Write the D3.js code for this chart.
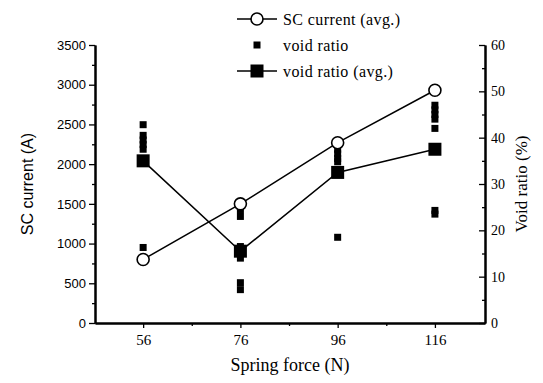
<!DOCTYPE html>
<html>
<head>
<meta charset="utf-8">
<script src="https://cdn.jsdelivr.net/npm/d3@7"></script>
<style>
  body { margin: 0; background: #fff; }
  svg { display: block; }
</style>
</head>
<body>
<div id="chart"></div>
<script>
// spring force categories (N)
var forces = [56, 76, 96, 116];
// SC current, averaged (A)
var scCurrentAvg = [800, 1500, 2270, 2930];
// void ratio, averaged (%)
var voidAvg = [35, 15.5, 32.5, 37.5];
// individual void ratio samples (%), one list per force
var voidSamples = [
  [42.8, 40.5, 39.5, 38.5, 37.5, 16.3],
  [24.5, 23, 16.5, 14, 8.7, 7.2],
  [37.5, 36.5, 35.5, 34.8, 18.5],
  [47, 46, 45, 44, 42, 24.3, 23.5]
];
var leftTicks = [0, 500, 1000, 1500, 2000, 2500, 3000, 3500];
var rightTicks = [0, 10, 20, 30, 40, 50, 60];

var width = 543, height = 383;
var margin = { left: 95, top: 45, right: 58, bottom: 60 };
var innerWidth = width - margin.left - margin.right;
var innerHeight = height - margin.top - margin.bottom;

var serif = "'Liberation Serif', 'Times New Roman', serif";
var sans = "'Liberation Sans', Arial, sans-serif";

var svg = d3.select("#chart").append("svg")
  .attr("width", width)
  .attr("height", height);

var g = svg.append("g")
  .attr("transform", "translate(" + margin.left + "," + margin.top + ")");

var scaleX = d3.scaleLinear().domain([46.1, 126.3]).range([0, innerWidth]);
var scaleY = d3.scaleLinear().domain([0, 3500]).range([innerHeight, 0]);
var scaleV = d3.scaleLinear().domain([0, 60]).range([innerHeight, 0]);

// axes
var xAxis = d3.axisBottom(scaleX).tickValues(forces).tickSize(5).tickSizeOuter(0);
var xMinor = d3.axisBottom(scaleX).tickValues([66, 86, 106]).tickSize(3).tickSizeOuter(0);
var yAxis = d3.axisLeft(scaleY).tickValues(leftTicks).tickSize(6).tickSizeOuter(0).tickFormat(d3.format("d"));
var yMinor = d3.axisLeft(scaleY).tickValues(d3.range(250, 3500, 500)).tickSize(3).tickSizeOuter(0);
var vAxis = d3.axisRight(scaleV).tickValues(rightTicks).tickSize(-6).tickSizeOuter(0).tickPadding(12);
var vMinor = d3.axisRight(scaleV).tickValues(d3.range(5, 60, 10)).tickSize(-3).tickSizeOuter(0);

var xAxisG = g.append("g").attr("transform", "translate(0," + innerHeight + ")").call(xAxis);
var xMinorG = g.append("g").attr("transform", "translate(0," + innerHeight + ")").call(xMinor);
var yAxisG = g.append("g").call(yAxis);
var yMinorG = g.append("g").call(yMinor);
var vAxisG = g.append("g").attr("transform", "translate(" + innerWidth + ",0)").call(vAxis);
var vMinorG = g.append("g").attr("transform", "translate(" + innerWidth + ",0)").call(vMinor);

// minor ticks carry no labels
[xMinorG, yMinorG, vMinorG].forEach(function (m) { m.selectAll("text").remove(); });

g.selectAll(".domain").attr("stroke", "#000").attr("stroke-width", 2);
g.selectAll(".tick line").attr("stroke", "#000").attr("stroke-width", 1.3);

xAxisG.selectAll("text").attr("font-family", serif).attr("font-size", "15px").attr("fill", "#000").attr("dy", "0.95em");
yAxisG.selectAll("text").attr("font-family", sans).attr("font-size", "13px").attr("fill", "#000");
vAxisG.selectAll("text").attr("font-family", serif).attr("font-size", "14px").attr("fill", "#000").attr("x", 6);

// axis titles
svg.append("text")
  .attr("transform", "translate(33," + (margin.top + innerHeight / 2) + ") rotate(-90)")
  .attr("text-anchor", "middle")
  .attr("font-family", sans)
  .attr("font-size", "16px")
  .text("SC current (A)");

svg.append("text")
  .attr("transform", "translate(527," + (margin.top + innerHeight / 2) + ") rotate(-90)")
  .attr("text-anchor", "middle")
  .attr("font-family", serif)
  .attr("font-size", "17px")
  .text("Void ratio (%)");

svg.append("text")
  .attr("x", 290)
  .attr("y", 371)
  .attr("text-anchor", "middle")
  .attr("font-family", serif)
  .attr("font-size", "18px")
  .text("Spring force (N)");

// individual void ratio samples
var samples = [];
voidSamples.forEach(function (list, i) {
  list.forEach(function (v) { samples.push({ x: forces[i], v: v }); });
});
g.selectAll("rect.sample").data(samples).enter().append("rect")
  .attr("class", "sample")
  .attr("x", d => scaleX(d.x) - 3.5)
  .attr("y", d => scaleV(d.v) - 3.5)
  .attr("width", 7)
  .attr("height", 7)
  .attr("fill", "#000");

// averaged lines
g.append("path")
  .datum(forces.map((f, i) => [scaleX(f), scaleV(voidAvg[i])]))
  .attr("d", d3.line())
  .attr("fill", "none").attr("stroke", "#000").attr("stroke-width", 1.5);

g.append("path")
  .datum(forces.map((f, i) => [scaleX(f), scaleY(scCurrentAvg[i])]))
  .attr("d", d3.line())
  .attr("fill", "none").attr("stroke", "#000").attr("stroke-width", 1.5);

g.selectAll("rect.avg").data(forces).enter().append("rect")
  .attr("class", "avg")
  .attr("x", d => scaleX(d) - 6.5)
  .attr("y", (d, i) => scaleV(voidAvg[i]) - 6.5)
  .attr("width", 13).attr("height", 13)
  .attr("fill", "#000");

g.selectAll("circle.avg").data(forces).enter().append("circle")
  .attr("class", "avg")
  .attr("cx", d => scaleX(d))
  .attr("cy", (d, i) => scaleY(scCurrentAvg[i]))
  .attr("r", 6)
  .attr("fill", "#fff").attr("stroke", "#000").attr("stroke-width", 1.6);

// legend
var legend = svg.append("g");
var rows = [
  { label: "SC current (avg.)", y: 19, kind: "circle" },
  { label: "void ratio", y: 45, kind: "small" },
  { label: "void ratio (avg.)", y: 71, kind: "big" }
];
rows.forEach(function (r) {
  if (r.kind !== "small") {
    legend.append("line")
      .attr("x1", 237).attr("x2", 277).attr("y1", r.y).attr("y2", r.y)
      .attr("stroke", "#000").attr("stroke-width", 1.5);
  }
  if (r.kind === "circle") {
    legend.append("circle").attr("cx", 257).attr("cy", r.y).attr("r", 6)
      .attr("fill", "#fff").attr("stroke", "#000").attr("stroke-width", 1.6);
  } else if (r.kind === "small") {
    legend.append("rect").attr("x", 253.5).attr("y", r.y - 3.5).attr("width", 7).attr("height", 7).attr("fill", "#000");
  } else {
    legend.append("rect").attr("x", 250.5).attr("y", r.y - 6.5).attr("width", 13).attr("height", 13).attr("fill", "#000");
  }
  legend.append("text")
    .attr("x", 283).attr("y", r.y)
    .attr("dy", "0.35em")
    .attr("font-family", serif)
    .attr("font-size", "16px")
    .attr("letter-spacing", "0.4px")
    .text(r.label);
});
</script>
</body>
</html>
